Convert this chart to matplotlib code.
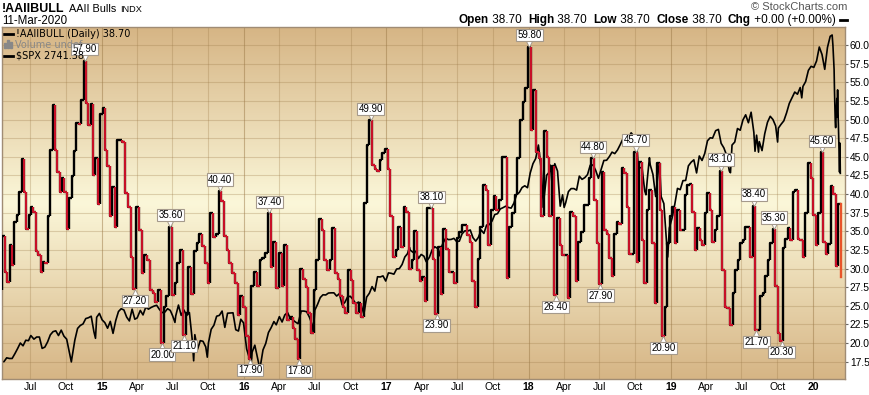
"""Recreate the StockCharts AAII Bulls chart with the $SPX overlay."""

import matplotlib as mpl

mpl.use("Agg")
import matplotlib.dates as mdates
import matplotlib.pyplot as plt
import numpy as np
from matplotlib.collections import LineCollection
from matplotlib.colors import LinearSegmentedColormap
from matplotlib.lines import Line2D
from matplotlib.patches import Rectangle
from matplotlib.ticker import FixedLocator, FormatStrFormatter
from matplotlib.transforms import offset_copy

W, H = 870, 395
AX_LEFT, AX_RIGHT, AX_TOP, AX_BOTTOM = 2, 845, 27, 379

RED = "#e3122c"
LAST_RED = "#e8542a"
TAN = "#d6b585"
CREAM = "#fbf7d9"
GRID = "#9c7a48"
FRAME = "#a08c74"
BOX_EDGE = "#a59a8c"

# weekly AAII bullish readings (%) in four stretches
CHUNK_EDGES = ["2014-04-15", "2015-02-09", "2016-04-28", "2018-06-18", "2020-03-12"]
BULL_A = [27.1, 34.4, 29.6, 28.2, 33.1, 30.5, 36.3, 37.2, 40.3, 44.7,
          40.3, 35.3, 37.2, 38.3, 37.6, 32.4, 31.8, 29.6, 30.9, 30.7,
          37.0, 45.9, 51.9, 45.9, 43.0, 40.3, 42.1, 40.3, 35.3, 39.4,
          42.4, 45.8, 49.5, 49.4, 52.6, 57.9, 52.2, 49.3, 52.1, 42.6,
          44.9, 38.6, 50.8, 51.6, 45.9, 43.7, 37.1, 41.0, 35.6]
BULL_B = [47.3, 47.3, 47.0, 40.1, 38.3, 31.6, 27.2, 38.3, 35.2, 29.4, 31.8,
          31.2, 27.1, 26.7, 25.5, 27.1, 20.0, 24.9, 26.3, 35.6, 26.4,
          28.0, 30.7, 32.5, 21.1, 24.0, 30.2, 26.6, 32.3, 33.4, 34.6,
          33.0, 30.7, 28.0, 37.5, 34.2, 34.7, 40.4, 39.0, 34.3, 32.5,
          30.7, 29.4, 28.0, 23.8, 26.3, 24.8, 20.9, 17.9, 27.6, 29.6,
          27.6, 31.2, 31.4, 32.1, 37.4, 30.2, 33.6, 27.4, 32.1, 27.6,
          33.1, 23.1]
BULL_C = [23.5, 22.0, 20.5, 17.8, 30.0, 28.6, 27.5, 24.0, 21.3, 27.1,
          31.2, 36.7, 35.2, 31.2, 29.8, 31.2, 35.4, 29.4, 28.6, 26.3,
          24.9, 24.0, 29.8, 28.5, 25.4, 24.0, 25.4, 23.5, 38.8, 46.6,
          49.9, 43.9, 43.3, 43.1, 44.6, 45.5, 46.1, 43.3, 37.0, 31.6,
          32.5, 35.6, 32.9, 38.3, 37.6, 30.0, 31.1, 35.1, 29.8, 28.3,
          28.9, 25.6, 38.1, 38.1, 31.3, 23.9, 32.9, 26.6, 35.3, 32.6,
          29.5, 29.5, 28.0, 34.1, 34.9, 35.8, 35.8, 34.5, 33.6, 28.3,
          24.9, 31.3, 35.6, 41.2, 40.5, 33.1, 37.9, 39.7, 37.9, 39.2,
          45.0, 45.0, 28.7, 35.6, 37.4, 39.9, 44.8, 49.9, 52.4, 54.2,
          59.8, 48.6, 53.9, 45.6, 44.8, 37.0, 48.4, 45.0, 37.0, 43.7,
          26.4, 36.8, 33.1, 31.8, 31.8, 26.0, 37.6, 37.0, 28.3, 33.6,
          34.9, 38.5, 38.5, 42.1, 44.8]
BULL_D = [39.2, 33.4, 27.9, 43.0, 35.2, 34.6, 31.4, 29.0, 34.7, 36.3,
          36.0, 43.5, 42.8, 38.3, 31.9, 31.9, 45.7, 30.9, 44.3, 33.8,
          28.1, 37.9, 40.5, 33.4, 25.4, 44.1, 37.8, 20.9, 24.9, 33.4,
          37.0, 38.3, 33.4, 37.9, 35.2, 35.2, 39.9, 41.2, 41.4, 37.6,
          32.5, 35.4, 33.8, 33.2, 37.4, 40.1, 37.9, 33.6, 35.2, 37.0,
          43.1, 29.8, 24.9, 24.7, 22.4, 26.7, 29.8, 31.2, 33.4, 33.8,
          35.6, 35.6, 31.6, 38.4, 21.7, 21.7, 26.3, 26.7, 29.0, 31.2,
          33.4, 35.3, 27.6, 21.3, 20.3, 32.7, 34.0, 35.4, 33.8, 40.3,
          40.5, 34.0, 33.8, 31.6, 37.4, 44.1, 42.1, 37.2, 33.2, 37.4,
          45.6, 33.5, 32.0, 33.3, 41.1, 40.0, 30.3, 38.7]
LAST_PRINT = 28.9

SPX_DATES = [
    "2014-04-11", "2014-04-17", "2014-04-25", "2014-05-02", "2014-05-09", "2014-05-16",
    "2014-05-23", "2014-05-30", "2014-06-06", "2014-06-13", "2014-06-20", "2014-06-27",
    "2014-07-03", "2014-07-11", "2014-07-18", "2014-07-25", "2014-08-01", "2014-08-08",
    "2014-08-15", "2014-08-22", "2014-08-29", "2014-09-05", "2014-09-12", "2014-09-19",
    "2014-09-26", "2014-10-03", "2014-10-10", "2014-10-15", "2014-10-17", "2014-10-24",
    "2014-10-31", "2014-11-07", "2014-11-14", "2014-11-21", "2014-11-28", "2014-12-05",
    "2014-12-12", "2014-12-16", "2014-12-19", "2014-12-26",
    "2015-01-02", "2015-01-09", "2015-01-16", "2015-01-23", "2015-01-30", "2015-02-06",
    "2015-02-13", "2015-02-20", "2015-02-27", "2015-03-06", "2015-03-13", "2015-03-20",
    "2015-03-27", "2015-04-02", "2015-04-10", "2015-04-17", "2015-04-24", "2015-05-01",
    "2015-05-08", "2015-05-15", "2015-05-22", "2015-05-29", "2015-06-05", "2015-06-12",
    "2015-06-19", "2015-06-26", "2015-07-02", "2015-07-08", "2015-07-10", "2015-07-17",
    "2015-07-24", "2015-07-31", "2015-08-07", "2015-08-14", "2015-08-21", "2015-08-25",
    "2015-08-28", "2015-09-04", "2015-09-11", "2015-09-18", "2015-09-25", "2015-09-29",
    "2015-10-02", "2015-10-09", "2015-10-16", "2015-10-23", "2015-10-30", "2015-11-06",
    "2015-11-13", "2015-11-20", "2015-11-27", "2015-12-04", "2015-12-11", "2015-12-18",
    "2015-12-24", "2015-12-31",
    "2016-01-08", "2016-01-15", "2016-01-20", "2016-01-22", "2016-01-29", "2016-02-05",
    "2016-02-11", "2016-02-19", "2016-02-26", "2016-03-04", "2016-03-11", "2016-03-18",
    "2016-03-24", "2016-04-01", "2016-04-08", "2016-04-15", "2016-04-22", "2016-04-29",
    "2016-05-06", "2016-05-13", "2016-05-19", "2016-05-27", "2016-06-03", "2016-06-10",
    "2016-06-17", "2016-06-24", "2016-06-27", "2016-07-01", "2016-07-08", "2016-07-15",
    "2016-07-22", "2016-07-29", "2016-08-05", "2016-08-12", "2016-08-19", "2016-08-26",
    "2016-09-02", "2016-09-09", "2016-09-16", "2016-09-23", "2016-09-30", "2016-10-07",
    "2016-10-14", "2016-10-21", "2016-10-28", "2016-11-04", "2016-11-11", "2016-11-18",
    "2016-11-25", "2016-12-02", "2016-12-09", "2016-12-16", "2016-12-23", "2016-12-30",
    "2017-01-06", "2017-01-13", "2017-01-20", "2017-01-27", "2017-02-03", "2017-02-10",
    "2017-02-17", "2017-02-24", "2017-03-01", "2017-03-03", "2017-03-10", "2017-03-17",
    "2017-03-24", "2017-03-31", "2017-04-07", "2017-04-13", "2017-04-21", "2017-04-28",
    "2017-05-05", "2017-05-12", "2017-05-17", "2017-05-19", "2017-05-26", "2017-06-02",
    "2017-06-09", "2017-06-16", "2017-06-23", "2017-06-30", "2017-07-07", "2017-07-14",
    "2017-07-21", "2017-07-28", "2017-08-04", "2017-08-11", "2017-08-18", "2017-08-25",
    "2017-09-01", "2017-09-08", "2017-09-15", "2017-09-22", "2017-09-29", "2017-10-06",
    "2017-10-13", "2017-10-20", "2017-10-27", "2017-11-03", "2017-11-10", "2017-11-17",
    "2017-11-24", "2017-12-01", "2017-12-08", "2017-12-15", "2017-12-22", "2017-12-29",
    "2018-01-05", "2018-01-12", "2018-01-19", "2018-01-26", "2018-02-02", "2018-02-08",
    "2018-02-09", "2018-02-16", "2018-02-23", "2018-02-26", "2018-03-02", "2018-03-09",
    "2018-03-16", "2018-03-23", "2018-03-29", "2018-04-02", "2018-04-06", "2018-04-13",
    "2018-04-20", "2018-04-27", "2018-05-04", "2018-05-11", "2018-05-18", "2018-05-25",
    "2018-06-01", "2018-06-08", "2018-06-15", "2018-06-22", "2018-06-29", "2018-07-06",
    "2018-07-13", "2018-07-20", "2018-07-27", "2018-08-03", "2018-08-10", "2018-08-17",
    "2018-08-24", "2018-08-31", "2018-09-07", "2018-09-14", "2018-09-21", "2018-09-28",
    "2018-10-05", "2018-10-11", "2018-10-12", "2018-10-19", "2018-10-26", "2018-10-29",
    "2018-11-02", "2018-11-07", "2018-11-09", "2018-11-16", "2018-11-23", "2018-11-30",
    "2018-12-03", "2018-12-07", "2018-12-14", "2018-12-21", "2018-12-24", "2018-12-28",
    "2019-01-04", "2019-01-11", "2019-01-18", "2019-01-25", "2019-02-01", "2019-02-08",
    "2019-02-15", "2019-02-22", "2019-03-01", "2019-03-08", "2019-03-15", "2019-03-22",
    "2019-03-29", "2019-04-05", "2019-04-12", "2019-04-18", "2019-04-26", "2019-05-03",
    "2019-05-10", "2019-05-17", "2019-05-24", "2019-05-31", "2019-06-03", "2019-06-07",
    "2019-06-14", "2019-06-21", "2019-06-28", "2019-07-05", "2019-07-12", "2019-07-19",
    "2019-07-26", "2019-08-02", "2019-08-05", "2019-08-09", "2019-08-14", "2019-08-16",
    "2019-08-23", "2019-08-30", "2019-09-06", "2019-09-13", "2019-09-20", "2019-09-27",
    "2019-10-02", "2019-10-04", "2019-10-11", "2019-10-18", "2019-10-25", "2019-11-01",
    "2019-11-08", "2019-11-15", "2019-11-22", "2019-11-29", "2019-12-03", "2019-12-06",
    "2019-12-13", "2019-12-20", "2019-12-27",
    "2020-01-03", "2020-01-10", "2020-01-17", "2020-01-24", "2020-01-31", "2020-02-07",
    "2020-02-14", "2020-02-19", "2020-02-21", "2020-02-24", "2020-02-25", "2020-02-27",
    "2020-02-28", "2020-03-02", "2020-03-03", "2020-03-04", "2020-03-05", "2020-03-06",
    "2020-03-09", "2020-03-10", "2020-03-11",
]
SPX_CLOSE = [
    1815, 1864, 1863, 1881, 1878, 1878, 1900, 1924, 1950, 1937, 1963, 1961,
    1985, 1968, 1978, 1978, 1925, 1931, 1955, 1988, 2003, 2007, 1985, 2010,
    1982, 1968, 1906, 1862, 1886, 1964, 2018, 2032, 2039, 2064, 2068, 2075,
    2002, 1972, 2070, 2088,
    2058, 2045, 2019, 2051, 1995, 2055, 2097, 2110, 2104, 2071, 2053, 2108,
    2061, 2067, 2102, 2081, 2117, 2108, 2116, 2122, 2126, 2107, 2092, 2094,
    2110, 2102, 2077, 2046, 2077, 2127, 2079, 2104, 2078, 2092, 1971, 1867,
    1989, 1921, 1961, 1958, 1932, 1884, 1951, 2014, 2033, 2075, 2079, 2099,
    2023, 2089, 2090, 2091, 2012, 2006, 2061, 2044,
    1922, 1880, 1859, 1907, 1940, 1880, 1829, 1918, 1948, 1999, 2022, 2050,
    2035, 2073, 2048, 2081, 2092, 2065, 2057, 2047, 2040, 2099, 2099, 2096,
    2071, 2037, 2001, 2103, 2130, 2162, 2175, 2174, 2183, 2184, 2184, 2169,
    2180, 2128, 2139, 2165, 2168, 2153, 2133, 2141, 2126, 2085, 2164, 2182,
    2213, 2192, 2259, 2258, 2263, 2239,
    2277, 2275, 2271, 2295, 2297, 2316, 2351, 2367, 2396, 2383, 2373, 2378,
    2344, 2363, 2355, 2329, 2349, 2384, 2399, 2391, 2357, 2382, 2416, 2439,
    2432, 2433, 2438, 2423, 2425, 2459, 2473, 2472, 2477, 2441, 2425, 2443,
    2477, 2461, 2500, 2502, 2519, 2549, 2553, 2575, 2581, 2588, 2582, 2579,
    2602, 2642, 2652, 2675, 2683, 2674,
    2743, 2786, 2810, 2873, 2762, 2581, 2620, 2732, 2747, 2779, 2691, 2786,
    2752, 2588, 2641, 2582, 2604, 2656, 2670, 2670, 2663, 2728, 2713, 2721,
    2735, 2779, 2780, 2755, 2718, 2760, 2801, 2802, 2819, 2840, 2833, 2850,
    2875, 2902, 2872, 2905, 2930, 2914, 2886, 2728, 2767, 2768, 2658, 2641,
    2723, 2814, 2781, 2736, 2633, 2760, 2790, 2633, 2600, 2417, 2351, 2486,
    2532, 2596, 2671, 2665, 2707, 2708, 2776, 2793, 2804, 2743, 2822, 2801,
    2834, 2893, 2907, 2905, 2940, 2946, 2881, 2860, 2826, 2752, 2744, 2873,
    2887, 2950, 2942, 2990, 3014, 2977, 3026, 2932, 2844, 2919, 2840, 2889,
    2847, 2926, 2979, 3007, 2992, 2962, 2887, 2952, 2970, 2986, 3023, 3067,
    3093, 3120, 3110, 3141, 3093, 3146, 3169, 3221, 3240,
    3235, 3265, 3330, 3295, 3226, 3328, 3380, 3386, 3338, 3226, 3128, 2979,
    2954, 3090, 3003, 3130, 3024, 2972, 2747, 2882, 2741,
]

# flagged extremes: value, rough date, peak (box above) or trough (box below)
LABEL_VALUES = [57.9, 27.2, 20.0, 35.6, 21.1, 40.4, 17.9, 37.4, 17.8, 49.9, 38.1,
                23.9, 59.8, 26.4, 44.8, 27.9, 45.7, 20.9, 43.1, 38.4, 21.7, 35.3,
                20.3, 45.6]
LABEL_NEAR = ["2014-11-16", "2015-03-25", "2015-06-12", "2015-06-28", "2015-07-31",
              "2015-11-01", "2016-01-17", "2016-03-08", "2016-05-24", "2016-11-27",
              "2017-05-03", "2017-05-21", "2018-01-07", "2018-03-12", "2018-06-15",
              "2018-07-06", "2018-10-06", "2018-12-17", "2019-05-13", "2019-08-03",
              "2019-08-10", "2019-09-20", "2019-10-11", "2020-01-22"]
LABEL_PEAK = [True, False, False, True, False, True, False, True, False, True, True,
              False, True, False, True, False, True, False, True, True, False, True,
              False, True]

TICK_DATES = ["2014-07-01", "2014-10-01", "2015-01-01", "2015-04-01", "2015-07-01",
              "2015-10-01", "2016-01-01", "2016-04-01", "2016-07-01", "2016-10-01",
              "2017-01-01", "2017-04-01", "2017-07-01", "2017-10-01", "2018-01-01",
              "2018-04-01", "2018-07-01", "2018-10-01", "2019-01-01", "2019-04-01",
              "2019-07-01", "2019-10-01", "2020-01-01"]
TICK_TEXT = ["Jul", "Oct", "15", "Apr", "Jul", "Oct", "16", "Apr", "Jul", "Oct",
             "17", "Apr", "Jul", "Oct", "18", "Apr", "Jul", "Oct", "19", "Apr",
             "Jul", "Oct", "20"]
Y_TICKS = [17.5, 20.0, 22.5, 25.0, 27.5, 30.0, 32.5, 35.0, 37.5, 40.0, 42.5,
           45.0, 47.5, 50.0, 52.5, 55.0, 57.5, 60.0]

X_RANGE = ("2014-04-20", "2020-03-23")
BULL_RANGE = (15.17, 62.42)
SPX_RANGE = (1782.3, 3423.3)


def fx(px):
    return px / W


def fy(py):
    return 1 - py / H


def step_series():
    edges = [mdates.datestr2num(d) for d in CHUNK_EDGES]
    chunks = (BULL_A, BULL_B, BULL_C, BULL_D)
    starts, ends, values = [], [], []
    for t0, t1, chunk in zip(edges[:-1], edges[1:], chunks):
        n = len(chunk)
        grid = t0 + (t1 - t0) * np.arange(n + 1) / n
        starts.extend(grid[:-1])
        ends.extend(grid[1:])
        values.extend(chunk)
    return np.array(starts), np.array(ends), np.array(values)


def text_run(fig, pieces, x_right, y, size):
    renderer = fig.canvas.get_renderer()
    texts, widths = [], []
    for s, weight in pieces:
        t = fig.text(0, fy(y), s, fontsize=size, fontweight=weight,
                     family="Liberation Sans", va="center", ha="left")
        texts.append(t)
        widths.append(t.get_window_extent(renderer).width)
    x = x_right - sum(widths)
    for t, w in zip(texts, widths):
        t.set_x(fx(x))
        x += w


def main():
    plt.rcParams["font.family"] = "Liberation Sans"
    fig = plt.figure(figsize=(W / 100, H / 100), dpi=100)
    rect = [fx(AX_LEFT), fy(AX_BOTTOM), fx(AX_RIGHT - AX_LEFT), (AX_BOTTOM - AX_TOP) / H]
    xlim = [mdates.datestr2num(d) for d in X_RANGE]
    ticks = [mdates.datestr2num(d) for d in TICK_DATES]

    # background gradient and grid
    bg = fig.add_axes(rect, zorder=0)
    cmap = LinearSegmentedColormap.from_list("bg", [TAN, CREAM, TAN])
    bg.imshow(np.linspace(0, 1, 256).reshape(-1, 1), cmap=cmap, extent=[0, 1, 0, 1],
              transform=bg.transAxes, aspect="auto", interpolation="bilinear", zorder=0)
    for t, lab in zip(ticks, TICK_TEXT):
        bg.axvline(t, color=GRID, lw=0.8, alpha=0.5 if lab.isdigit() else 0.3, zorder=1)
    for v in Y_TICKS:
        bg.axhline(v, color=GRID, lw=0.8, alpha=0.3, zorder=1)
    bg.set_xlim(xlim)
    bg.set_ylim(BULL_RANGE)
    bg.axis("off")

    # SPX overlay on its own scale
    ax = fig.add_axes(rect, zorder=1)
    ax.patch.set_visible(False)
    ax.plot([mdates.datestr2num(d) for d in SPX_DATES], SPX_CLOSE, color="black", lw=1.2)
    ax.set_ylim(SPX_RANGE)
    ax.yaxis.set_visible(False)
    for s in ax.spines.values():
        s.set_visible(False)

    ax.xaxis.set_major_locator(FixedLocator(ticks))
    ax.set_xticklabels(TICK_TEXT)
    for lbl, lab in zip(ax.get_xticklabels(), TICK_TEXT):
        lbl.set_fontweight("bold" if lab.isdigit() else "normal")
    ax.tick_params(axis="x", length=0, pad=2.5, labelsize=7.5)

    # AAII bulls as a step line, red on down weeks
    ax2 = ax.twinx()
    ax2.set_zorder(2)
    ax2.patch.set_visible(False)
    starts, ends, values = step_series()
    up, down = [], []
    prev = values[0]
    for s, e, v in zip(starts, ends, values):
        seg = [(s, prev), (s, v), (e, v)]
        (down if v < prev else up).append(seg)
        prev = v
    ax2.add_collection(LineCollection(up, colors="black", linewidths=1.7, zorder=3))
    ax2.add_collection(LineCollection(down, colors="#3a0a10", linewidths=1.7, zorder=3))
    ax2.add_collection(LineCollection(down, colors=RED, linewidths=1.2, zorder=4))
    ax2.plot([ends[-1], ends[-1]], [values[-1], LAST_PRINT], color=LAST_RED, lw=1.7, zorder=4)

    mids = (starts + ends) / 2
    for val, near, peak in zip(LABEL_VALUES, LABEL_NEAR, LABEL_PEAK):
        hits = np.flatnonzero(np.isclose(values, val))
        i = hits[np.argmin(np.abs(mids[hits] - mdates.datestr2num(near)))]
        sign = 1 if peak else -1
        tri = offset_copy(ax2.transData, fig=fig, x=0, y=sign * 4, units="dots")
        ax2.plot([mids[i]], [val], marker="v" if peak else "^", ms=5.5, mfc="white",
                 mec=BOX_EDGE, mew=0.7, transform=tri, zorder=6, clip_on=False)
        ax2.annotate(f"{val:.2f}", xy=(mids[i], val), xytext=(0, sign * 11.5),
                     textcoords="offset pixels", ha="center", va="center", fontsize=7,
                     bbox=dict(boxstyle="square,pad=0.12", fc="white", ec=BOX_EDGE, lw=0.8),
                     zorder=7)

    ax2.set_xlim(xlim)
    ax2.set_ylim(BULL_RANGE)
    ax2.yaxis.set_major_locator(FixedLocator(Y_TICKS))
    ax2.yaxis.set_major_formatter(FormatStrFormatter("%.1f"))
    ax2.tick_params(axis="y", direction="out", length=2.5, width=0.8, color="#666666",
                    pad=1, labelsize=7.4)
    for s in ax2.spines.values():
        s.set_color(FRAME)
        s.set_linewidth(1.0)

    # in-chart legend
    legend_font = dict(family="DejaVu Sans", fontsize=7, va="center", ha="left", zorder=10)
    fig.add_artist(Line2D([fx(4), fx(13)], [fy(34)] * 2, color="black", lw=2))
    fig.text(fx(16), fy(34), "!AAIIBULL (Daily) 38.70", color="black", **legend_font)
    for x0, h in ((4, 5), (7, 8), (10, 6)):
        fig.add_artist(Rectangle((fx(x0), fy(48)), fx(2), h / H, color="#888888",
                                 transform=fig.transFigure))
    fig.text(fx(15), fy(44.5), "Volume undef", color="#888888", **legend_font)
    fig.add_artist(Line2D([fx(4), fx(13)], [fy(55.5)] * 2, color="black", lw=2))
    fig.text(fx(16), fy(55.5), "$SPX 2741.38", color="black", **legend_font)

    # header
    fig.text(fx(2), fy(9), "!AAIIBULL", fontsize=9, fontweight="bold", va="center")
    fig.text(fx(69), fy(9), "AAII Bulls", fontsize=7.8, va="center")
    fig.text(fx(120), fy(9.5), "INDX", fontsize=6.6, va="center")
    fig.text(fx(2), fy(21), "11-Mar-2020", fontsize=8.3, va="center")
    fig.text(fx(847), fy(7), "\u00a9 StockCharts.com", fontsize=8, color="#555555",
             ha="right", va="center")
    pieces = [("Open", "bold"), (" 38.70  ", "normal"), ("High", "bold"),
              (" 38.70  ", "normal"), ("Low", "bold"), (" 38.70  ", "normal"),
              ("Close", "bold"), (" 38.70  ", "normal"), ("Chg", "bold"),
              (" +0.00 (+0.00%) ", "normal")]
    text_run(fig, pieces, 839, 20, 8.5)
    fig.add_artist(Line2D([fx(840), fx(847)], [fy(20)] * 2, color="black", lw=2))

    fig.savefig("out.png", dpi=100)
    plt.close(fig)


if __name__ == "__main__":
    main()
